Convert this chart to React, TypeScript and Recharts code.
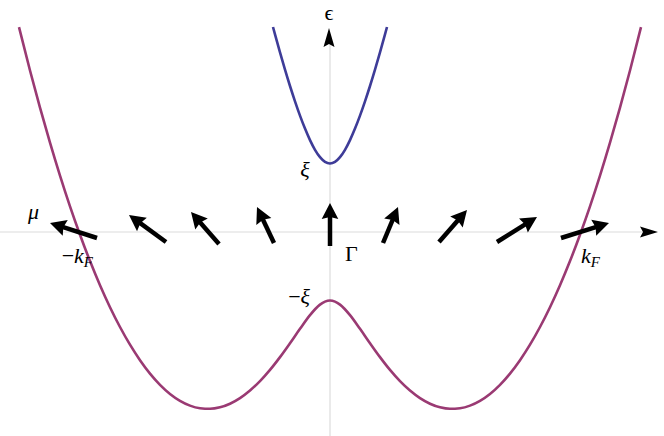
import React from "react";
import { ComposedChart, Line, XAxis, YAxis, ReferenceLine, ReferenceDot } from "recharts";

// Lower (Mexican-hat) band: momentum k and energy values
const lowerK = [-311, -300, -290, -280, -270, -260, -250, -240, -230, -220, -210, -200, -190, -180, -170, -160, -150, -140, -130, -120, -110, -100, -90, -80, -70, -60, -50, -40, -30, -20, -10, -5, 0, 5, 10, 20, 30, 40, 50, 60, 70, 80, 90, 100, 110, 120, 130, 140, 150, 160, 170, 180, 190, 200, 210, 220, 230, 240, 250, 260, 270, 280, 290, 300, 311];
const lowerE = [204.9, 161.5, 124.3, 89.3, 56.4, 25.7, -2.7, -29.1, -53.2, -75.2, -95.0, -112.7, -128.2, -141.6, -152.8, -161.9, -168.8, -173.6, -176.2, -176.8, -175.3, -171.7, -166.1, -158.5, -149.1, -137.9, -125.1, -111.2, -96.8, -83.1, -72.6, -69.6, -68.5, -69.6, -72.6, -83.1, -96.8, -111.2, -125.1, -137.9, -149.1, -158.5, -166.1, -171.7, -175.3, -176.8, -176.2, -173.6, -168.8, -161.9, -152.8, -141.6, -128.2, -112.7, -95.0, -75.2, -53.2, -29.1, -2.7, 25.7, 56.4, 89.3, 124.3, 161.5, 204.9];

// Upper band
const upperK = [-57, -55, -50, -45, -40, -35, -30, -25, -20, -15, -10, -5, 0, 5, 10, 15, 20, 25, 30, 35, 40, 45, 50, 55, 57];
const upperE = [205.0, 197.6, 179.6, 162.4, 146.0, 130.7, 116.4, 103.4, 91.9, 82.2, 74.8, 70.1, 68.5, 70.1, 74.8, 82.2, 91.9, 103.4, 116.4, 130.7, 146.0, 162.4, 179.6, 197.6, 205.0];

// Spin texture arrows (tail -> tip)
const spinTailK = [-233, -164, -111, -56, 0, 53, 109, 167, 231];
const spinTailE = [-6, -10, -12, -11, -14, -11, -10, -10, -6];
const spinTipK = [-280, -201, -139, -73, 0, 68, 137, 207, 279];
const spinTipE = [9, 17, 20, 25, 29, 25, 22, 15, 9];

// Labels
const labelText = ["ϵ", "ξ", "−ξ", "Γ", "μ", "−k", "k"];
const labelSub = ["", "", "", "", "", "F", "F"];
const labelK = [-1, -25, -20, 15, -302, -237, 251];
const labelE = [212, 55, -72, -29, 13, -31, -31];
const labelAnchor = ["middle", "middle", "end", "start", "start", "end", "start"];
const labelItalic = [false, true, true, false, true, true, true];

const lowerData = lowerK.map((k, i) => ({ k, e: lowerE[i] }));
const upperData = upperK.map((k, i) => ({ k, e: upperE[i] }));

const BLUE = "#3e3c98";
const PURPLE = "#9a3a73";
const GRAY = "#dcdcdc";
const FONT = "'Liberation Serif', 'DejaVu Serif', serif";

function makeArrow(headLen: number, halfW: number, shaftW: number, notch: number, color: string) {
  return (p: any) => {
    const { x1, y1, x2, y2 } = p;
    const dx = x2 - x1;
    const dy = y2 - y1;
    const L = Math.hypot(dx, dy) || 1;
    const ux = dx / L;
    const uy = dy / L;
    const nx = -uy;
    const ny = ux;
    const h = Math.min(headLen, L);
    const bx = x2 - ux * h;
    const by = y2 - uy * h;
    const mx = bx + ux * notch;
    const my = by + uy * notch;
    const pts = [
      [x2, y2],
      [bx + nx * halfW, by + ny * halfW],
      [mx, my],
      [bx - nx * halfW, by - ny * halfW],
    ]
      .map((q) => q.join(","))
      .join(" ");
    return (
      <g>
        {shaftW > 0 && (
          <line x1={x1} y1={y1} x2={mx + ux * 1} y2={my + uy * 1} stroke={color} strokeWidth={shaftW} />
        )}
        <polygon points={pts} fill={color} />
      </g>
    );
  };
}

const spinArrow = makeArrow(16, 8.3, 4.5, 2, "#000");
const axisArrow = makeArrow(100, 5.5, 0, 3, "#000");

export default function App() {
  return (
    <div style={{ position: "absolute", left: 0, top: 0, background: "#fff" }}>
      <ComposedChart width={664} height={436} margin={{ top: 0, right: 0, bottom: 0, left: 0 }}>
        <XAxis type="number" dataKey="k" domain={[-330, 334]} hide allowDataOverflow />
        <YAxis type="number" domain={[-204, 232]} hide allowDataOverflow />
        <ReferenceLine
          segment={[{ x: -330, y: 0 }, { x: 314, y: 0 }]}
          stroke={GRAY}
          strokeWidth={1.2}
          ifOverflow="visible"
          zIndex={50}
        />
        <ReferenceLine
          segment={[{ x: 0, y: -204 }, { x: 0, y: 189 }]}
          stroke={GRAY}
          strokeWidth={1.2}
          ifOverflow="visible"
          zIndex={50}
        />
        <Line
          data={lowerData}
          dataKey="e"
          type="monotone"
          stroke={PURPLE}
          strokeWidth={2.6}
          dot={false}
          activeDot={false}
          isAnimationActive={false}
        />
        <Line
          data={upperData}
          dataKey="e"
          type="monotone"
          stroke={BLUE}
          strokeWidth={2.6}
          dot={false}
          activeDot={false}
          isAnimationActive={false}
        />
        <ReferenceLine
          segment={[{ x: 310, y: 0 }, { x: 328, y: 0 }]}
          shape={axisArrow}
          ifOverflow="visible"
          zIndex={700}
        />
        <ReferenceLine
          segment={[{ x: -1, y: 185 }, { x: -1, y: 204 }]}
          shape={axisArrow}
          ifOverflow="visible"
          zIndex={700}
        />
        {spinTailK.map((k, i) => (
          <ReferenceLine
            key={"s" + i}
            segment={[{ x: k, y: spinTailE[i] }, { x: spinTipK[i], y: spinTipE[i] }]}
            shape={spinArrow}
            ifOverflow="visible"
            zIndex={700}
          />
        ))}
        {labelText.map((t, i) => (
          <ReferenceDot
            key={"l" + i}
            x={labelK[i]}
            y={labelE[i]}
            r={0}
            ifOverflow="visible"
            zIndex={800}
            shape={(p: any) => (
              <text
                x={p.cx}
                y={p.cy}
                textAnchor={labelAnchor[i] as any}
                fontFamily={FONT}
                fontSize={22}
                fill="#000"
              >
                {t.startsWith("−") ? (
                  <>
                    <tspan>−</tspan>
                    <tspan fontStyle={labelItalic[i] ? "italic" : "normal"}>{t.slice(1)}</tspan>
                  </>
                ) : (
                  <tspan fontStyle={labelItalic[i] ? "italic" : "normal"}>{t}</tspan>
                )}
                {labelSub[i] && (
                  <tspan fontStyle="italic" fontSize={15} dy={4}>
                    {labelSub[i]}
                  </tspan>
                )}
              </text>
            )}
          />
        ))}
      </ComposedChart>
    </div>
  );
}
